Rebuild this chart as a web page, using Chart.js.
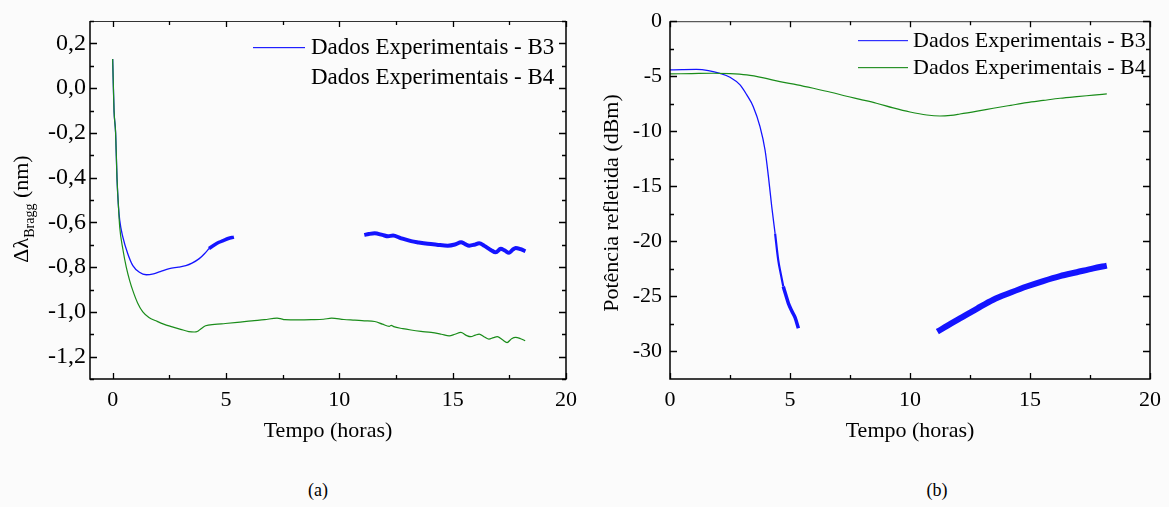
<!DOCTYPE html>
<html>
<head>
<meta charset="utf-8">
<script src="https://cdn.jsdelivr.net/npm/chart.js@4/dist/chart.umd.min.js"></script>
<style>
  html, body { margin: 0; padding: 0; background: #fbfbfb; }
  #wrap { position: relative; width: 1169px; height: 507px; overflow: hidden; }
  canvas { position: absolute; top: 0; }
  #grafA { left: 0; }
  #grafB { left: 585px; }
  .rotulo { position: absolute; top: 480px; width: 40px; text-align: center;
            font: 18px "Liberation Serif", "Times New Roman", serif; color: #000; }
</style>
</head>
<body>
<div id="wrap">
  <canvas id="grafA" width="585" height="460"></canvas>
  <canvas id="grafB" width="584" height="460"></canvas>
  <div class="rotulo" style="left:298px">(a)</div>
  <div class="rotulo" style="left:917px">(b)</div>
</div>
<script>
// ---------- (a) deslocamento do comprimento de onda de Bragg ----------
const tempoB3a1 = [0, 0.02, 0.06, 0.13, 0.19, 0.25, 0.31, 0.45, 0.67, 0.89, 1.18, 1.48, 1.8, 2.1, 2.5, 2.9, 3.23, 3.5, 3.82, 4.05, 4.25];
const lambdaB3a1 = [0.13, 0.05, -0.1, -0.2, -0.4, -0.52, -0.59, -0.666, -0.741, -0.793, -0.823, -0.834, -0.83, -0.82, -0.807, -0.8, -0.793, -0.782, -0.762, -0.74, -0.717];
const tempoB3a2 = [4.25, 4.5, 4.69, 4.9, 5.1, 5.35];
const lambdaB3a2 = [-0.717, -0.70, -0.689, -0.68, -0.672, -0.666];
const tempoB3a3 = [11.1, 11.3, 11.56, 11.9, 12.15, 12.37, 12.7, 13.17, 13.5, 13.9, 14.3, 14.78, 15.1, 15.37, 15.55, 15.73, 15.95, 16.17, 16.4, 16.68, 16.9, 17.12, 17.3, 17.49, 17.65, 17.78, 18.0, 18.21];
const lambdaB3a3 = [-0.656, -0.652, -0.649, -0.656, -0.662, -0.659, -0.670, -0.684, -0.690, -0.696, -0.700, -0.704, -0.699, -0.689, -0.697, -0.704, -0.700, -0.693, -0.705, -0.723, -0.734, -0.718, -0.726, -0.736, -0.722, -0.714, -0.720, -0.729];

const tempoB4a = [0, 0.02, 0.06, 0.13, 0.19, 0.25, 0.31, 0.45, 0.6, 0.75, 0.89, 1.1, 1.33, 1.6, 1.91, 2.25, 2.63, 3.0, 3.36, 3.6, 3.73, 3.9, 4.1, 4.5, 4.97, 5.5, 6.14, 6.7, 7.25, 7.4, 7.6, 8.2, 8.77, 9.3, 9.66, 10.2, 10.68, 11.1, 11.56, 11.9, 12.2, 12.29, 12.4, 12.8, 13.16, 13.6, 14.05, 14.5, 14.85, 15.1, 15.36, 15.6, 15.8, 16.0, 16.17, 16.4, 16.6, 16.8, 16.97, 17.2, 17.4, 17.6, 17.78, 18.0, 18.2];
const lambdaB4a = [0.13, 0.05, -0.1, -0.2, -0.4, -0.52, -0.62, -0.72, -0.8, -0.86, -0.905, -0.96, -1.0, -1.025, -1.04, -1.055, -1.067, -1.078, -1.088, -1.09, -1.088, -1.075, -1.062, -1.056, -1.052, -1.047, -1.04, -1.035, -1.028, -1.03, -1.035, -1.036, -1.035, -1.033, -1.028, -1.034, -1.037, -1.04, -1.043, -1.055, -1.065, -1.06, -1.066, -1.075, -1.081, -1.087, -1.092, -1.1, -1.107, -1.1, -1.092, -1.105, -1.111, -1.104, -1.099, -1.112, -1.122, -1.115, -1.111, -1.125, -1.137, -1.12, -1.114, -1.12, -1.129];

const ticksXa = [0, 5, 10, 15, 20];
const ticksYa = [-1.2, -1.0, -0.8, -0.6, -0.4, -0.2, 0.0, 0.2];

// ---------- (b) potência refletida ----------
const tempoB3b1 = [0, 0.5, 1.1, 1.6, 2.08, 2.5, 2.92, 3.2, 3.47, 3.75, 3.96, 4.1, 4.24, 4.38];
const potB3b1 = [-4.43, -4.4, -4.38, -4.48, -4.73, -5.09, -5.79, -6.7, -7.76, -9.58, -11.7, -14.1, -16.85, -19.3];
const tempoB3b2 = [4.38, 4.51, 4.62, 4.72];
const potB3b2 = [-19.3, -21.7, -23.0, -24.1];
const tempoB3b3 = [4.72, 4.83, 4.93, 5.07, 5.21, 5.35];
const potB3b3 = [-24.1, -24.9, -25.6, -26.3, -26.9, -27.9];
const tempoB3b4 = [11.14, 11.6, 12.08, 12.8, 13.47, 14.2, 14.86, 15.55, 16.25, 16.95, 17.64, 18.2];
const potB3b4 = [-28.2, -27.6, -27.0, -26.1, -25.3, -24.65, -24.1, -23.6, -23.15, -22.8, -22.45, -22.2];

const tempoB4b = [0, 0.9, 1.8, 2.5, 3.2, 3.9, 4.58, 5.3, 5.97, 6.7, 7.36, 7.92, 8.6, 9.3, 10.0, 10.7, 11.25, 11.7, 12.08, 12.8, 13.47, 14.2, 14.86, 15.55, 16.25, 16.95, 17.64, 18.2];
const potB4b = [-4.79, -4.76, -4.73, -4.76, -4.88, -5.15, -5.49, -5.78, -6.09, -6.45, -6.82, -7.1, -7.45, -7.88, -8.25, -8.52, -8.61, -8.55, -8.43, -8.17, -7.91, -7.64, -7.4, -7.2, -7.0, -6.85, -6.72, -6.61];

const ticksXb = [0, 5, 10, 15, 20];
const ticksYb = [-30, -25, -20, -15, -10, -5, 0];

const nomesSeries = ["Dados Experimentais - B3", "Dados Experimentais - B4"];

const FONTE = '"Liberation Serif", "Times New Roman", serif';
const AZUL = "#1414ff";
const VERDE = "#1a8c1a";

function pontos(xs, ys) {
  return xs.map((x, i) => ({ x: x, y: ys[i] }));
}

function serie(xs, ys, cor, largura) {
  return {
    data: pontos(xs, ys),
    borderColor: cor,
    borderWidth: largura,
    pointRadius: 0,
    cubicInterpolationMode: "monotone",
    fill: false,
  };
}

// moldura, marcas internas, títulos e legenda
function moldura(cfg) {
  return {
    id: "moldura",
    afterDraw(chart) {
      const ctx = chart.ctx;
      const a = chart.chartArea;
      const sx = chart.scales.x, sy = chart.scales.y;
      ctx.save();
      ctx.strokeStyle = "#000";
      ctx.lineWidth = 1.5;
      ctx.beginPath();
      ctx.moveTo(a.left, a.top); ctx.lineTo(a.left, a.bottom);
      ctx.lineTo(a.right, a.bottom); ctx.lineTo(a.right, a.top);
      ctx.stroke();
      ctx.strokeStyle = "#333";
      ctx.lineWidth = 1;
      ctx.beginPath();
      ctx.moveTo(a.left, a.top + 0.5); ctx.lineTo(a.right, a.top + 0.5);
      ctx.stroke();

      ctx.strokeStyle = "#000";
      ctx.lineWidth = 1.3;
      const marcaX = (v, len) => {
        const p = Math.round(sx.getPixelForValue(v)) + 0.5;
        ctx.beginPath();
        ctx.moveTo(p, a.bottom); ctx.lineTo(p, a.bottom - len);
        ctx.moveTo(p, a.top); ctx.lineTo(p, a.top + len);
        ctx.stroke();
      };
      const marcaY = (v, len) => {
        const p = Math.round(sy.getPixelForValue(v)) + 0.5;
        ctx.beginPath();
        ctx.moveTo(a.left, p); ctx.lineTo(a.left + len, p);
        ctx.moveTo(a.right, p); ctx.lineTo(a.right - len, p);
        ctx.stroke();
      };
      const tx = cfg.ticksX, ty = cfg.ticksY;
      const px = tx[1] - tx[0], py = ty[1] - ty[0];
      tx.forEach(v => marcaX(v, 6));
      for (let v = tx[0] - px / 2; v <= sx.max; v += px) {
        if (v > sx.min && v < sx.max) marcaX(v, 4);
      }
      ty.forEach(v => marcaY(v, 7));
      for (let v = ty[0] - py / 2; v <= sy.max + 1e-9; v += py) {
        if (v > sy.min && v < sy.max) marcaY(v, 4);
      }

      // título do eixo x
      ctx.fillStyle = "#000";
      ctx.font = "22px " + FONTE;
      ctx.textAlign = "center";
      ctx.textBaseline = "middle";
      ctx.fillText("Tempo (horas)", (a.left + a.right) / 2, 431);

      // título do eixo y
      cfg.tituloY(ctx);

      // legenda: amostra de linha + nome
      ctx.textAlign = "left";
      ctx.textBaseline = "middle";
      ctx.font = cfg.legFonte + "px " + FONTE;
      cfg.legenda.forEach((l, i) => {
        if (l.cor) {
          ctx.fillStyle = l.cor;
          ctx.fillRect(l.x0, l.y, l.x1 - l.x0, 1.2);
        }
        ctx.fillStyle = "#000";
        ctx.fillText(nomesSeries[i], l.tx, l.y + 1);
      });
      ctx.restore();
    },
  };
}

function opcoes(minX, maxX, minY, maxY, ticksX, ticksY, larguraY, dirPad, fmt, fonteY, padY) {
  return {
    responsive: false,
    animation: false,
    devicePixelRatio: 1,
    layout: { padding: { left: 0, top: 21, right: dirPad, bottom: 0 } },
    plugins: { legend: { display: false }, tooltip: { enabled: false } },
    scales: {
      x: {
        type: "linear", min: minX, max: maxX,
        border: { display: false },
        grid: { display: false, drawTicks: false },
        afterBuildTicks: s => { s.ticks = ticksX.map(v => ({ value: v })); },
        afterFit: s => { s.height = 81; },
        ticks: { color: "#000", font: { family: FONTE, size: 22 }, padding: 8, maxRotation: 0 },
      },
      y: {
        type: "linear", min: minY, max: maxY,
        border: { display: false },
        grid: { display: false, drawTicks: false },
        afterBuildTicks: s => { s.ticks = ticksY.map(v => ({ value: v })); },
        afterFit: s => { s.width = larguraY; },
        ticks: { color: "#000", font: { family: FONTE, size: fonteY }, padding: padY, callback: fmt },
      },
    },
  };
}

// gráfico (a)
new Chart(document.getElementById("grafA"), {
  type: "line",
  data: {
    datasets: [
      serie(tempoB4a, lambdaB4a, VERDE, 1.2),
      serie(tempoB3a1, lambdaB3a1, AZUL, 1.3),
      serie(tempoB3a2, lambdaB3a2, AZUL, 3.5),
      serie(tempoB3a3, lambdaB3a3, AZUL, 4),
    ],
  },
  options: opcoes(-1, 20, -1.3, 0.3, ticksXa, ticksYa, 90, 15,
    v => v.toFixed(1).replace(".", ","), 24, 4),
  plugins: [moldura({
    ticksX: ticksXa, ticksY: ticksYa, legFonte: 23,
    legenda: [
      { cor: "#2020ff", x0: 253, x1: 305, tx: 311, y: 47 },
      { cor: null, x0: 0, x1: 0, tx: 311, y: 77 },
    ],
    tituloY: ctx => {
      // Δλ com índice "Bragg" e unidade
      const p1 = "Δλ", p2 = "Bragg", p3 = " (nm)";
      ctx.save();
      ctx.translate(20, 209);
      ctx.rotate(-Math.PI / 2);
      ctx.textAlign = "left";
      ctx.textBaseline = "alphabetic";
      ctx.font = "22px " + FONTE;
      const w1 = ctx.measureText(p1).width, w3 = ctx.measureText(p3).width;
      ctx.font = "14px " + FONTE;
      const w2 = ctx.measureText(p2).width;
      let x = -(w1 + w2 + w3) / 2;
      ctx.font = "22px " + FONTE;
      ctx.fillText(p1, x, 8); x += w1;
      ctx.font = "14px " + FONTE;
      ctx.fillText(p2, x, 14); x += w2;
      ctx.font = "22px " + FONTE;
      ctx.fillText(p3, x, 8);
      ctx.restore();
    },
  })],
});

// gráfico (b)
new Chart(document.getElementById("grafB"), {
  type: "line",
  data: {
    datasets: [
      serie(tempoB4b, potB4b, VERDE, 1.2),
      serie(tempoB3b1, potB3b1, AZUL, 1.3),
      serie(tempoB3b2, potB3b2, AZUL, 2.2),
      serie(tempoB3b3, potB3b3, AZUL, 3.5),
      serie(tempoB3b4, potB3b4, AZUL, 6),
    ],
  },
  options: opcoes(0, 20, -32.5, 0, ticksXb, ticksYb, 85, 19,
    v => String(v), 22, 8),
  plugins: [moldura({
    ticksX: ticksXb, ticksY: ticksYb, legFonte: 22,
    legenda: [
      { cor: "#3030ff", x0: 273, x1: 323, tx: 328, y: 40 },
      { cor: "#2a922a", x0: 273, x1: 323, tx: 328, y: 67 },
    ],
    tituloY: ctx => {
      ctx.save();
      ctx.translate(27, 203);
      ctx.rotate(-Math.PI / 2);
      ctx.textAlign = "center";
      ctx.textBaseline = "middle";
      ctx.font = "22px " + FONTE;
      ctx.fillText("Potência refletida (dBm)", 0, 0);
      ctx.restore();
    },
  })],
});
</script>
</body>
</html>
